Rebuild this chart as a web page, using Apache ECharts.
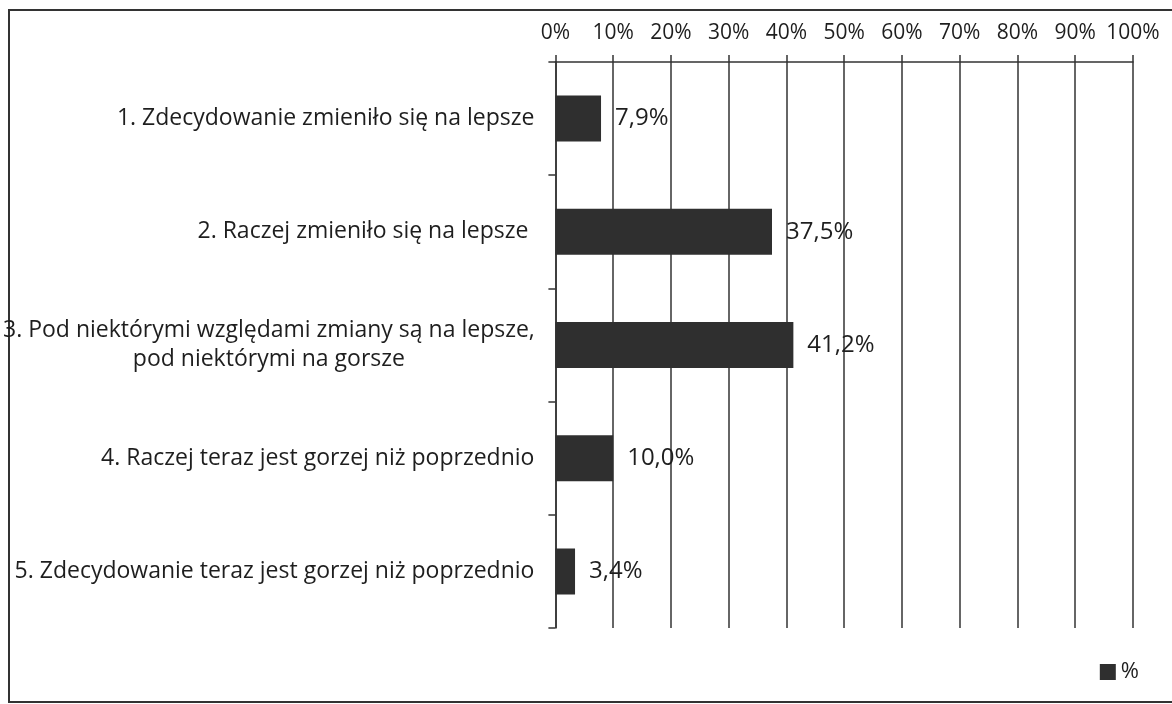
<!DOCTYPE html>
<html>
<head>
<meta charset="utf-8">
<script src="https://cdn.jsdelivr.net/npm/echarts@6/dist/echarts.min.js"></script>
<style>
  html, body { margin: 0; padding: 0; background: #fff; }
  #chart { width: 1172px; height: 704px; }
</style>
</head>
<body>
<div id="chart"></div>
<script>
// categories, top to bottom
var categories = [
  '1. Zdecydowanie zmieniło się na lepsze',
  '2. Raczej zmieniło się na lepsze ',
  '3. Pod niektórymi względami zmiany są na lepsze,\npod niektórymi na gorsze',
  '4. Raczej teraz jest gorzej niż poprzednio',
  '5. Zdecydowanie teraz jest gorzej niż poprzednio'
]
var values = [7.9, 37.5, 41.2, 10.0, 3.4]
var seriesName = '%'

var font = '"Open Sans", Lato, sans-serif'
var ink = '#1e1e1e'
var lineColor = '#333'

var chart = echarts.init(document.getElementById('chart'))
chart.setOption({
  animation: false,
  textStyle: { fontFamily: font },
  grid: { left: 553, right: 39, top: 62, bottom: 76 },
  graphic: [
    {
      type: 'rect',
      shape: { x: 9, y: 10, width: 1200, height: 692 },
      style: { fill: 'none', stroke: '#333', lineWidth: 2 },
      silent: true
    }
  ],
  legend: {
    right: 28,
    top: 656,
    icon: 'rect',
    itemWidth: 16,
    itemHeight: 16,
    itemGap: 6,
    textStyle: { fontSize: 22, color: ink, fontFamily: font },
    data: [seriesName]
  },
  xAxis: {
    type: 'value',
    position: 'top',
    min: 0,
    max: 100,
    interval: 10,
    axisLine: { show: true, lineStyle: { color: lineColor, width: 1.5 } },
    axisTick: { show: true, length: 7, lineStyle: { color: lineColor, width: 1.5 } },
    splitLine: { show: true, lineStyle: { color: lineColor, width: 1.5 } },
    axisLabel: {
      formatter: '{value}%',
      margin: 18,
      fontSize: 21,
      color: ink,
      fontFamily: font
    }
  },
  yAxis: {
    type: 'category',
    inverse: true,
    data: categories,
    axisLine: { show: true, lineStyle: { color: lineColor, width: 1.5 } },
    axisTick: { show: true, length: 7, lineStyle: { color: lineColor, width: 1.5 } },
    axisLabel: {
      margin: 21,
      fontSize: 23,
      color: ink,
      fontFamily: font,
      formatter: function (v) {
        // two-line label is centred on itself
        if (v.indexOf('\n') < 0) return v
        return v.split('\n').map(function (s) { return '{c|' + s + '}' }).join('\n')
      },
      rich: {
        c: { width: 531, align: 'center', fontSize: 23, color: ink, fontFamily: font, lineHeight: 29 }
      }
    }
  },
  series: [
    {
      name: seriesName,
      type: 'bar',
      data: values,
      barWidth: 46,
      itemStyle: { color: '#2f2f2f' },
      label: {
        show: true,
        position: 'right',
        distance: 14,
        fontSize: 24,
        color: ink,
        fontFamily: font,
        formatter: function (p) {
          return p.value.toFixed(1).replace('.', ',') + '%'
        }
      }
    }
  ]
})
</script>
</body>
</html>
